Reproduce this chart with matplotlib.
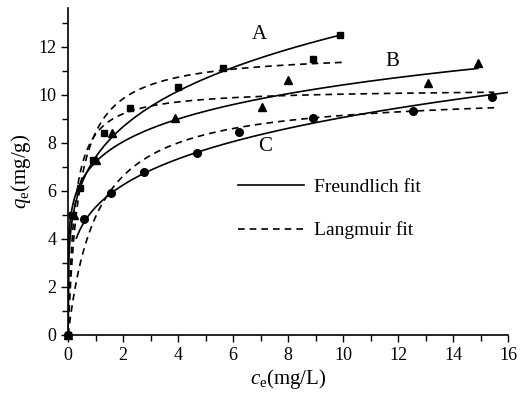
import numpy as np
import matplotlib.pyplot as plt
from matplotlib.lines import Line2D
from matplotlib.ticker import MultipleLocator

plt.rcParams['font.family'] = ['Liberation Serif', 'DejaVu Serif']
plt.rcParams['mathtext.fontset'] = 'custom'
plt.rcParams['mathtext.rm'] = 'Liberation Serif'
plt.rcParams['mathtext.it'] = 'Liberation Serif:italic'

# experimental points
ce_A = [0, 0.15, 0.45, 0.9, 1.3, 2.25, 4.0, 5.65, 8.9, 9.9]
qe_A = [0, 5.0, 6.1, 7.3, 8.4, 9.45, 10.3, 11.1, 11.5, 12.5]
ce_B = [0, 0.2, 1.0, 1.6, 3.9, 7.05, 8.0, 13.1, 14.9]
qe_B = [0, 5.0, 7.3, 8.4, 9.05, 9.5, 10.6, 10.5, 11.3]
ce_C = [0, 0.58, 1.56, 2.76, 4.7, 6.2, 8.9, 12.55, 15.4]
qe_C = [0, 4.82, 5.9, 6.8, 7.56, 8.43, 9.05, 9.34, 9.9]

# fit parameters: Freundlich (KF, 1/n, c range) and Langmuir (qm, KL, c range)
freundlich_A = (7.4, 0.228, 0.0, 9.9)
freundlich_B = (7.2, 0.16, 0.0, 14.9)
freundlich_C = (5.32, 0.231, 0.3, 16.0)
langmuir_A = (11.8, 2.5, 10.0)
langmuir_B = (10.25, 4.4, 15.5)
langmuir_C = (10.1, 0.95, 15.5)

fig = plt.figure(figsize=(5.2, 4.01), dpi=100)
ax = fig.add_axes([0.131, 0.1646, 0.846, 0.815])

for kf, inv_n, c0, c1 in [freundlich_A, freundlich_B, freundlich_C]:
    c = np.linspace(c0, c1, 600)
    ax.plot(c, kf * c ** inv_n, color='black', lw=1.2)

for qm, kl, c1 in [langmuir_A, langmuir_B, langmuir_C]:
    c = np.linspace(0, c1, 600)
    ax.plot(c, qm * kl * c / (1 + kl * c), color='black', lw=1.2, ls=(0, (4, 3)))

ax.plot(ce_A, qe_A, 's', color='black', ms=5, clip_on=False)
ax.plot(ce_B, qe_B, '^', color='black', ms=6, clip_on=False)
ax.plot(ce_C, qe_C, 'o', color='black', ms=5.5, clip_on=False)

ax.text(6.95, 12.5, 'A', fontsize=15, ha='center', va='center')
ax.text(11.8, 11.4, 'B', fontsize=15, ha='center', va='center')
ax.text(7.15, 7.85, 'C', fontsize=15, ha='center', va='center')

handles = [Line2D([], [], color='black', lw=1.2),
           Line2D([], [], color='black', lw=1.2, ls=(0, (4, 3)))]
ax.legend(handles, ['Freundlich fit', 'Langmuir fit'], loc='upper left',
          bbox_to_anchor=(0.346, 0.532), frameon=False, fontsize=14,
          handlelength=3.4, handletextpad=0.5, labelspacing=1.3)

ax.set_xlim(0, 16)
ax.set_ylim(0, 13.6)
ax.xaxis.set_major_locator(MultipleLocator(2))
ax.xaxis.set_minor_locator(MultipleLocator(1))
ax.yaxis.set_major_locator(MultipleLocator(2))
ax.yaxis.set_minor_locator(MultipleLocator(1))
ax.tick_params(which='both', direction='out', labelsize=13, width=1)
ax.tick_params(which='major', length=5)
ax.tick_params(which='minor', length=4)
ax.spines['top'].set_visible(False)
ax.spines['right'].set_visible(False)
ax.spines['left'].set_linewidth(1.2)
ax.spines['bottom'].set_linewidth(1.2)

ax.set_xlabel(r'$c_{\mathrm{e}}$(mg/L)', fontsize=15, labelpad=2)
ax.set_ylabel(r'$q_{\mathrm{e}}$(mg/g)', fontsize=15, labelpad=4)

fig.savefig('out.png', dpi=100)
